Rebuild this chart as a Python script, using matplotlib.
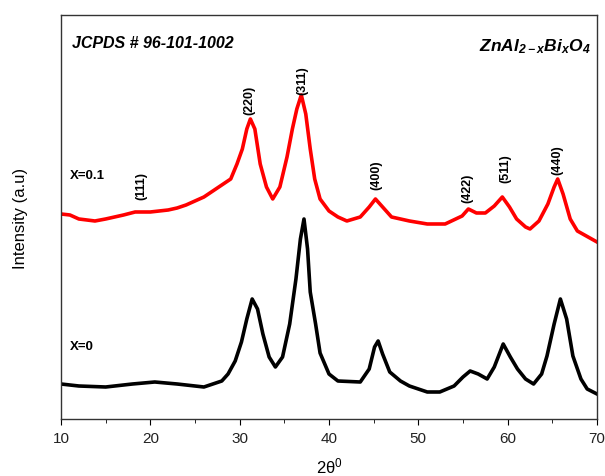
import matplotlib
matplotlib.use('Agg')
import matplotlib.pyplot as plt
from matplotlib.ticker import MultipleLocator

plt.rcParams['font.family'] = ['Liberation Sans', 'DejaVu Sans']
plt.rcParams['mathtext.default'] = 'regular'

# X=0.1 sample (red), intensity in arbitrary units
two_theta_red = [10, 11, 12, 13.8, 15, 17, 18.3, 20, 22, 23, 24, 25, 26, 27, 28, 29,
                 29.7, 30.3, 30.8, 31.2, 31.7, 32.3, 33, 33.7, 34.5, 35.3, 35.9, 36.4,
                 36.9, 37.4, 37.9, 38.4, 39, 40, 41, 42, 43.5, 44.5, 45.2, 46, 47, 49,
                 51, 53, 54.9, 55.6, 56.5, 57.5, 58.5, 59.4, 60.2, 61, 62, 62.5, 63.5,
                 64.5, 65.2, 65.6, 66.2, 67, 67.8, 69, 70]
intensity_red = [205, 204, 200, 198, 200, 204, 207, 207, 209, 211, 214, 218, 222, 228,
                 234, 240, 255, 270, 290, 300, 290, 255, 232, 220, 232, 262, 290, 310,
                 324, 305, 270, 240, 220, 208, 202, 198, 202, 212, 220, 212, 202, 198,
                 195, 195, 203, 210, 206, 206, 213, 222, 212, 200, 192, 190, 198,
                 215, 232, 240, 225, 200, 188, 182, 177]

# X=0 sample (black)
two_theta_blk = [10, 12, 15, 18, 20.5, 23, 26, 28, 28.7, 29.5, 30.2, 30.8, 31.4, 32,
                 32.6, 33.3, 34, 34.8, 35.6, 36.3, 36.8, 37.2, 37.6, 37.9, 38.5, 39,
                 40, 41, 43.5, 44.5, 45.1, 45.5, 46, 46.8, 48, 49, 51, 52.4, 54, 55,
                 55.8, 56.7, 57.7, 58.5, 59.5, 60.3, 61.1, 62, 62.9, 63.8, 64.4, 65.2,
                 65.9, 66.6, 67.3, 68.2, 68.9, 70]
intensity_blk = [35, 33, 32, 35, 37, 35, 32, 38, 45, 58, 77, 100, 120, 110,
                 85, 62, 52, 62, 95, 140, 180, 200, 170, 127, 95, 66,
                 45, 38, 37, 50, 72, 78, 65, 47, 38, 33, 27, 27, 33, 42,
                 48, 45, 40, 52, 75, 62, 50, 40, 35, 45, 63, 95,
                 120, 100, 63, 40, 30, 25]

# hkl labels: label, 2theta, base height
hkl_labels = ['(111)', '(220)', '(311)', '(400)', '(422)', '(511)', '(440)']
hkl_pos = [19.0, 31.1, 37.0, 45.3, 55.5, 59.7, 65.6]
hkl_base = [220, 305, 325, 230, 217, 237, 245]

fig = plt.figure(figsize=(6.05, 4.77), dpi=100)
ax = fig.add_axes([0.1008, 0.1195, 0.8860, 0.8470])

ax.plot(two_theta_red, intensity_red, color='#ff0000', lw=2.6)
ax.plot(two_theta_blk, intensity_blk, color='black', lw=2.6)

for lab, x, y in zip(hkl_labels, hkl_pos, hkl_base):
    ax.text(x, y, lab, rotation=90, ha='center', va='bottom',
            fontsize=9, fontweight='bold')

ax.text(11.2, 376, 'JCPDS # 96-101-1002', fontsize=11.5, fontweight='bold',
        style='italic', va='center')
ax.text(69.3, 373, r'$ZnAl_{2-x}Bi_xO_4$', fontsize=12.5, fontweight='bold',
        style='italic', ha='right', va='center')
ax.text(11.0, 244, 'X=0.1', fontsize=9.5, fontweight='bold', va='center')
ax.text(11.0, 73, 'X=0', fontsize=9.5, fontweight='bold', va='center')

ax.set_xlim(10, 70)
ax.set_ylim(0, 404)
ax.set_yticks([])
ax.xaxis.set_major_locator(MultipleLocator(10))
ax.xaxis.set_minor_locator(MultipleLocator(5))
ax.tick_params(axis='x', which='major', direction='out', length=4, labelsize=11,
               pad=5, labelcolor='#222222')
ax.tick_params(axis='x', which='minor', direction='out', length=3)
for s in ax.spines.values():
    s.set_color('#333333')
    s.set_linewidth(1.0)

ax.set_xlabel(r'2$\theta^{0}$', fontsize=12, labelpad=7)
ax.set_ylabel('Intensity (a.u)', fontsize=12, labelpad=24)

fig.savefig('out.png', dpi=100)
